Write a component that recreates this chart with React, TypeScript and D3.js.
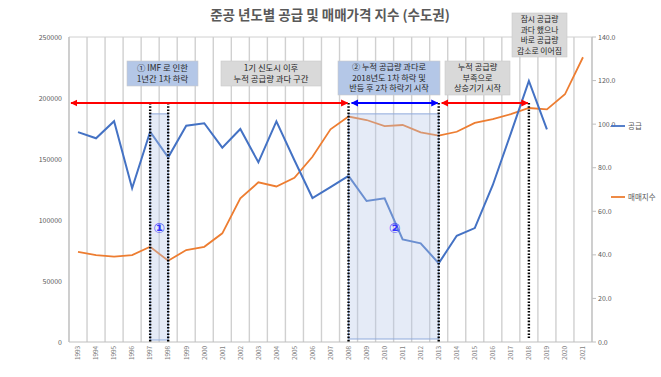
import React from "react";
import * as d3 from "d3";

const years = ["1993","1994","1995","1996","1997","1998","1999","2000","2001","2002","2003","2004","2005","2006","2007","2008","2009","2010","2011","2012","2013","2014","2015","2016","2017","2018","2019","2020","2021"];
const supplyYears = years.slice(0, 27);
const supply = [172000,167000,181000,126000,172400,151400,177300,179300,159300,174600,147300,180800,149000,118000,127000,136200,115600,117800,84100,80900,64500,87100,93400,128700,171000,214000,174300];
const priceIndex = [41.4,39.9,39.2,39.9,43.7,37.3,42.2,43.7,49.9,65.9,73.3,71.4,75.4,85.0,97.6,103.5,101.9,99.1,99.6,96.2,94.7,96.5,100.6,102.3,104.6,107.4,106.8,113.7,130.7];
const leftTicks = [0,50000,100000,150000,200000,250000];
const rightTicks = [0,20,40,60,80,100,120,140];
const seriesNames = ["공급","매매지수"];
const title = "준공 년도별 공급 및 매매가격 지수 (수도권)";

const KR = "'Noto Sans CJK KR', 'Noto Sans', sans-serif";

export default function App() {
  const x = d3.scaleBand<string>().domain(years).range([69, 592]).paddingInner(0).paddingOuter(0);
  const yL = d3.scaleLinear().domain([0, 250000]).range([342, 37]);
  const yR = d3.scaleLinear().domain([0, 140]).range([342, 37]);
  const cx = (y: string) => (x(y) as number) + x.bandwidth() / 2;

  const supplyLine = d3.line<number>().x((_, i) => cx(supplyYears[i])).y((d) => yL(d))(supply) as string;
  const priceLine = d3.line<number>().x((_, i) => cx(years[i])).y((d) => yR(d))(priceIndex) as string;

  const boundaries = years.map((y) => x(y) as number).concat([592]);
  const shadeTop = yL(187000);
  const arrowY = 103;

  const textBox = (x0: number, y0: number, w: number, h: number, fill: string, lines: string[], ly0: number, lh: number, fs: number) => (
    <g>
      <rect x={x0} y={y0} width={w} height={h} fill={fill} stroke="#c9c9c9" strokeWidth={0.6} />
      {lines.map((l, i) => (
        <text key={i} x={x0 + w / 2} y={ly0 + i * lh} textAnchor="middle" fontSize={fs} fill="#262626" fontFamily={KR}>{l}</text>
      ))}
    </g>
  );

  return (
    <svg width={661} height={377} style={{ position: "absolute", left: 0, top: 0, background: "#fff" }}>
      <defs>
        <marker id="ar" viewBox="0 0 10 10" refX="9" refY="5" markerWidth="4" markerHeight="4" orient="auto-start-reverse">
          <path d="M0,0 L10,5 L0,10 z" fill="#ff0000" />
        </marker>
        <marker id="ab" viewBox="0 0 10 10" refX="9" refY="5" markerWidth="4" markerHeight="4" orient="auto-start-reverse">
          <path d="M0,0 L10,5 L0,10 z" fill="#0000ff" />
        </marker>
      </defs>
      <text x={330} y={20} textAnchor="middle" fontSize={13.5} fontWeight="bold" fill="#595959" fontFamily={KR}>{title}</text>

      {/* grid */}
      {boundaries.map((b, i) => (
        <line key={i} x1={b} x2={b} y1={37} y2={342} stroke="#d0d0d0" strokeWidth={1.4} />
      ))}
      <line x1={69} x2={592} y1={37} y2={37} stroke="#d0d0d0" strokeWidth={1} />
      <line x1={69} x2={592} y1={342} y2={342} stroke="#bfbfbf" strokeWidth={1} />
      <line x1={69} x2={69} y1={37} y2={342} stroke="#bfbfbf" strokeWidth={1} />
      <line x1={592} x2={592} y1={37} y2={342} stroke="#bfbfbf" strokeWidth={1} />

      {/* axis ticks */}
      {leftTicks.map((t) => (
        <text key={t} x={62} y={yL(t) + 2.5} textAnchor="end" fontSize={7} fill="#595959" fontFamily={KR}>{t}</text>
      ))}
      {rightTicks.map((t) => (
        <g key={t}>
          <line x1={592} x2={596} y1={yR(t)} y2={yR(t)} stroke="#bfbfbf" />
          <text x={598} y={yR(t) + 2.5} fontSize={7} fill="#595959" fontFamily={KR}>{t.toFixed(1)}</text>
        </g>
      ))}
      {years.map((y) => (
        <text key={y} transform={`translate(${cx(y) + 2.3},346) rotate(-90)`} textAnchor="end" fontSize={6.3} fill="#7f7f7f" fontFamily={KR}>{y}</text>
      ))}

      {/* lines */}
      <path d={priceLine} fill="none" stroke="#ed7d31" strokeWidth={1.8} />
      <path d={supplyLine} fill="none" stroke="#4472c4" strokeWidth={2} />

      {/* shaded boxes */}
      <rect x={cx("1997")} y={shadeTop} width={cx("1998") - cx("1997")} height={342 - shadeTop - 2} fill="#b4c7e7" fillOpacity={0.35} stroke="#8faadc" strokeWidth={1} />
      <rect x={cx("2008")} y={shadeTop} width={cx("2013") - cx("2008")} height={342 - shadeTop - 3} fill="#b4c7e7" fillOpacity={0.35} stroke="#8faadc" strokeWidth={1} />

      {/* dotted lines */}
      {["1997", "1998", "2008", "2013", "2018"].map((y) => (
        <line key={y} x1={cx(y)} x2={cx(y)} y1={arrowY} y2={y === "2018" ? 338 : 342} stroke="#000" strokeWidth={2.4} strokeDasharray="1.6,1.6" />
      ))}

      {/* arrows */}
      <line x1={71} x2={cx("2008") - 1} y1={arrowY} y2={arrowY} stroke="#ff0000" strokeWidth={1.8} markerStart="url(#ar)" markerEnd="url(#ar)" />
      <line x1={cx("2008") + 3} x2={cx("2013") - 1} y1={arrowY} y2={arrowY} stroke="#0000ff" strokeWidth={1.8} markerStart="url(#ab)" markerEnd="url(#ab)" />
      <line x1={cx("2013") + 3} x2={cx("2018") - 1} y1={arrowY} y2={arrowY} stroke="#ff0000" strokeWidth={1.8} markerStart="url(#ar)" markerEnd="url(#ar)" />

      {/* circled numbers */}
      <text x={(cx("1997") + cx("1998")) / 2} y={233} textAnchor="middle" fontSize={14} fontWeight="bold" fill="#3333ff" fontFamily="'DejaVu Sans', sans-serif">①</text>
      <text x={cx("2011") - 8} y={233} textAnchor="middle" fontSize={14} fontWeight="bold" fill="#3333ff" fontFamily="'DejaVu Sans', sans-serif">②</text>

      {/* text boxes */}
      {textBox(127, 61, 71, 25, "#b4c7e7", ["① IMF 로 인한", "1년간 1차 하락"], 71, 11, 8.4)}
      {textBox(221, 61, 100, 25, "#d9d9d9", ["1기 신도시 이후", "누적 공급량 과다 구간"], 71, 11, 8.4)}
      {textBox(338, 61, 102, 34, "#b4c7e7", ["② 누적 공급량 과다로", "2018년도 1차 하락 및", "반등 후 2차 하락기 시작"], 70, 10.5, 8.2)}
      {textBox(445, 61, 65, 34, "#d9d9d9", ["누적 공급량", "부족으로", "상승기기 시작"], 70, 10.5, 8.2)}
      {textBox(512, 13, 55, 44, "#d9d9d9", ["잠시 공급량", "과다 했으나", "바로 공급량", "감소로 이어짐"], 22, 10.5, 7.8)}

      {/* legend */}
      <line x1={611} x2={625} y1={126} y2={126} stroke="#4472c4" strokeWidth={1.8} />
      <text x={628} y={129} fontSize={7.5} fill="#595959" fontFamily={KR}>{seriesNames[0]}</text>
      <line x1={611} x2={625} y1={197} y2={197} stroke="#ed7d31" strokeWidth={1.8} />
      <text x={628} y={200} fontSize={7.5} fill="#595959" fontFamily={KR}>{seriesNames[1]}</text>
    </svg>
  );
}
